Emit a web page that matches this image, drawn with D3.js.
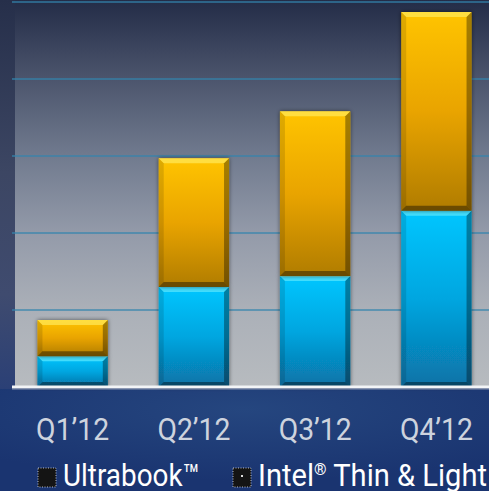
<!DOCTYPE html>
<html>
<head>
<meta charset="utf-8">
<script src="https://cdn.jsdelivr.net/npm/d3@7"></script>
<style>
  html, body { margin: 0; padding: 0; background: #1a3470; }
  svg { display: block; }
</style>
</head>
<body>
<svg id="chart" width="489" height="491"></svg>
<script>
const categories = ["Q1\u201912", "Q2\u201912", "Q3\u201912", "Q4\u201912"];
const ultrabook = [0.40, 1.30, 1.44, 2.29];
const thinLight = [0.47, 1.67, 2.14, 2.58];
const gridTicks = [1, 2, 3, 4, 5];
const seriesNames = ["Ultrabook\u2122", "Intel\u00AE Thin & Light"];

const W = 489, H = 491;
const svg = d3.select("#chart");
const defs = svg.append("defs");

function linGrad(id, stops) {
  const g = defs.append("linearGradient").attr("id", id)
    .attr("x1", 0).attr("y1", 0).attr("x2", 0).attr("y2", 1);
  stops.forEach(s => g.append("stop").attr("offset", s[0]).attr("stop-color", s[1]));
}
linGrad("outerBg", [[0, "#262f4a"], [0.35, "#3c4663"], [0.6, "#3f4b6f"], [0.79, "#2b4076"], [1, "#1a3470"]]);
linGrad("plotBg", [[0, "#232c47"], [0.2, "#4b546c"], [0.4, "#707a8e"], [0.6, "#939aa9"], [0.8, "#abb0b8"], [1, "#b7bbbf"]]);
linGrad("gradOrange", [[0, "#ffc400"], [0.5, "#e9a400"], [1, "#b07c00"]]);
linGrad("gradBlue", [[0, "#00c6ff"], [0.5, "#04a6e0"], [1, "#0872a6"]]);
const rg = defs.append("radialGradient").attr("id", "bottomGlow")
  .attr("cx", 0.5).attr("cy", 0.2).attr("r", 0.7);
rg.append("stop").attr("offset", 0).attr("stop-color", "#25467f");
rg.append("stop").attr("offset", 1).attr("stop-color", "#1a3470");

const shadow = defs.append("filter").attr("id", "shadow")
  .attr("x", "-20%").attr("y", "-10%").attr("width", "140%").attr("height", "120%");
shadow.append("feDropShadow").attr("dx", 0).attr("dy", 0).attr("stdDeviation", 2.2)
  .attr("flood-color", "#000").attr("flood-opacity", 0.55);

// Backgrounds
svg.append("rect").attr("width", W).attr("height", H).attr("fill", "url(#outerBg)");
svg.append("rect").attr("x", 0).attr("y", 389).attr("width", W).attr("height", H - 389).attr("fill", "url(#bottomGlow)");

const baseY = 387;
svg.append("rect").attr("x", 15).attr("y", 0).attr("width", W - 15).attr("height", baseY).attr("fill", "url(#plotBg)");

const x = d3.scaleBand().domain(categories).range([12, 497]).paddingInner(0.42).paddingOuter(0.21);
const y = d3.scaleLinear().domain([0, 5]).range([baseY, 2]);

// Gridlines
svg.append("g").selectAll("line").data(gridTicks).join("line")
  .attr("x1", 12).attr("x2", W)
  .attr("y1", d => y(d)).attr("y2", d => y(d))
  .attr("stroke", "#3385ae").attr("stroke-width", 1.3).attr("opacity", 0.85);

// Stacked bars
const table = categories.map((c, i) => ({ cat: c, u: ultrabook[i], t: thinLight[i] }));
const stack = d3.stack().keys(["u", "t"])(table);
const fills = { u: "url(#gradBlue)", t: "url(#gradOrange)" };
const tops = { u: "#6ff0ff", t: "#fff06a" };

const gBars = svg.append("g");
stack.forEach(layer => {
  layer.forEach(seg => {
    const x0 = x(seg.data.cat), x1 = x0 + x.bandwidth();
    const yTop = y(seg[1]), yBot = y(seg[0]);
    const b = 5;
    const g = gBars.append("g");
    g.append("rect").attr("x", x0).attr("y", yTop).attr("width", x1 - x0).attr("height", yBot - yTop)
      .attr("fill", fills[layer.key]).attr("filter", "url(#shadow)");
    const poly = pts => pts.map(p => p.join(",")).join(" ");
    g.append("polygon").attr("points", poly([[x0, yTop], [x1, yTop], [x1 - b, yTop + b], [x0 + b, yTop + b]]))
      .attr("fill", tops[layer.key]).attr("opacity", 0.6);
    g.append("polygon").attr("points", poly([[x0, yTop], [x0 + b, yTop + b], [x0 + b, yBot - b], [x0, yBot]]))
      .attr("fill", "#000").attr("opacity", 0.12);
    g.append("polygon").attr("points", poly([[x1, yTop], [x1, yBot], [x1 - b, yBot - b], [x1 - b, yTop + b]]))
      .attr("fill", "#000").attr("opacity", 0.35);
    g.append("polygon").attr("points", poly([[x0, yBot], [x1, yBot], [x1 - b, yBot - b], [x0 + b, yBot - b]]))
      .attr("fill", "#000").attr("opacity", 0.4);
  });
});

// Baseline
svg.append("line").attr("x1", 12).attr("x2", W).attr("y1", baseY).attr("y2", baseY)
  .attr("stroke", "#f2f4f6").attr("stroke-width", 3);
svg.append("line").attr("x1", 12).attr("x2", W).attr("y1", baseY + 2).attr("y2", baseY + 2)
  .attr("stroke", "#8a96b0").attr("stroke-width", 1);

// Category labels
const xAxis = d3.axisBottom(x).tickSize(0).tickPadding(0);
const ax = svg.append("g").attr("transform", `translate(0, 440)`).call(xAxis);
ax.select(".domain").remove();
ax.selectAll("text")
  .attr("dy", 0).attr("y", 0)
  .attr("font-family", "Roboto, 'Open Sans', sans-serif")
  .attr("font-size", 31)
  .attr("fill", "#cdd3de")
  .attr("textLength", 73).attr("lengthAdjust", "spacingAndGlyphs");

// Legend
const legend = [
  { name: seriesNames[0], mx: 38, tx: 63, len: 137, dot: false },
  { name: seriesNames[1], mx: 233, tx: 258, len: 229, dot: true }
];
const lg = svg.append("g");
legend.forEach(l => {
  lg.append("rect").attr("x", l.mx).attr("y", 468).attr("width", 18).attr("height", 19)
    .attr("fill", "#141414").attr("stroke", "#ffffff").attr("stroke-width", 0.7)
    .attr("stroke-dasharray", "1,1.5");
  if (l.dot) {
    lg.append("rect").attr("x", l.mx + 8).attr("y", 475).attr("width", 2).attr("height", 2).attr("fill", "#ddd");
  }
  const t = lg.append("text").attr("x", l.tx).attr("y", 486)
    .attr("font-family", "Roboto, 'Open Sans', sans-serif")
    .attr("font-size", 31).attr("fill", "#ffffff")
    .attr("textLength", l.len).attr("lengthAdjust", "spacingAndGlyphs");
  if (l.name.includes("\u00AE")) {
    const parts = l.name.split("\u00AE");
    t.append("tspan").text(parts[0]);
    t.append("tspan").text("\u00AE").attr("font-size", 17).attr("dy", -11);
    t.append("tspan").text(parts[1]).attr("dy", 11);
  } else {
    t.text(l.name);
  }
});
</script>
</body>
</html>
